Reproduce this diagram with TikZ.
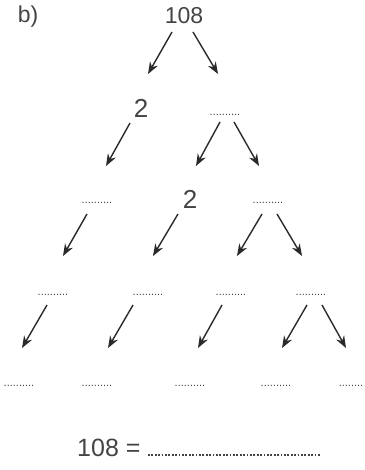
\documentclass[tikz,border=0pt]{standalone}
\usepackage{fontspec}
\setmainfont{Liberation Sans}
\usetikzlibrary{arrows.meta}
\definecolor{ink}{HTML}{444444}
\definecolor{arrowink}{HTML}{2A2A2A}
\tikzset{
  num/.style={inner sep=0pt, text=ink, font=\fontsize{23}{23}\selectfont},
  bignum/.style={inner sep=0pt, text=ink, font=\fontsize{26}{26}\selectfont},
  blank/.style={inner sep=0pt, anchor=base, text=ink, font=\fontsize{11}{11}\selectfont},
  arr/.style={draw=arrowink, line width=1.4pt, -{Stealth[length=12pt,width=9pt]}},
  answerline/.style={draw=ink, line width=1.3pt, dash pattern=on 1.8pt off 1.6pt}
}
\newcommand{\dotsblank}{..........}
\begin{document}
\begin{tikzpicture}[x=1pt,y=-1pt]
\useasboundingbox (0,0) rectangle (364,470);
% labels
\node[num] (lab) at (28,17) {b)};
\node[num] (n108) at (184,16) {108};
\node[bignum] (two1) at (141,108) {2};
\node[blank] (d1) at (225,116) {\dotsblank};
\node[blank] (d2) at (97,204) {\dotsblank};
\node[bignum] (two2) at (190,199) {2};
\node[blank] (d3) at (268,204) {\dotsblank};
\node[blank] (d4) at (53,295) {\dotsblank};
\node[blank] (d5) at (148,295) {\dotsblank};
\node[blank] (d6) at (231,295) {\dotsblank};
\node[blank] (d7) at (311,295) {\dotsblank};
\node[blank] (d8) at (19,386) {\dotsblank};
\node[blank] (d9) at (97,386) {\dotsblank};
\node[blank] (d10) at (190,386) {\dotsblank};
\node[blank] (d11) at (276,386) {\dotsblank};
\node[blank] (d12) at (351,386) {........};
\node[num, font=\fontsize{25}{25}\selectfont, anchor=base west] (eq) at (77,456) {108 =};
% arrow end points
\coordinate (a1s) at (172,32);  \coordinate (a1e) at (148,74);
\coordinate (a2s) at (193,32);  \coordinate (a2e) at (218,74);
\coordinate (b1s) at (130,123); \coordinate (b1e) at (106,166);
\coordinate (b2s) at (220,122); \coordinate (b2e) at (196,166);
\coordinate (b3s) at (234,122); \coordinate (b3e) at (259,166);
\coordinate (c1s) at (87,214);  \coordinate (c1e) at (63,256);
\coordinate (c2s) at (178,214); \coordinate (c2e) at (153,256);
\coordinate (c3s) at (262,214); \coordinate (c3e) at (237,256);
\coordinate (c4s) at (277,214); \coordinate (c4e) at (302,256);
\coordinate (e1s) at (47,305);  \coordinate (e1e) at (22,348);
\coordinate (e2s) at (133,305); \coordinate (e2e) at (108,348);
\coordinate (e3s) at (222,305); \coordinate (e3e) at (198,348);
\coordinate (e4s) at (307,305); \coordinate (e4e) at (282,348);
\coordinate (e5s) at (322,305); \coordinate (e5e) at (346,348);
\coordinate (ls) at (148,455);  \coordinate (le) at (320,455);
% arrows
\foreach \a in {a1,a2,b1,b2,b3,c1,c2,c3,c4,e1,e2,e3,e4,e5}
  \draw[arr] (\a s) -- (\a e);
\draw[answerline] (ls) -- (le);
\end{tikzpicture}
\end{document}
